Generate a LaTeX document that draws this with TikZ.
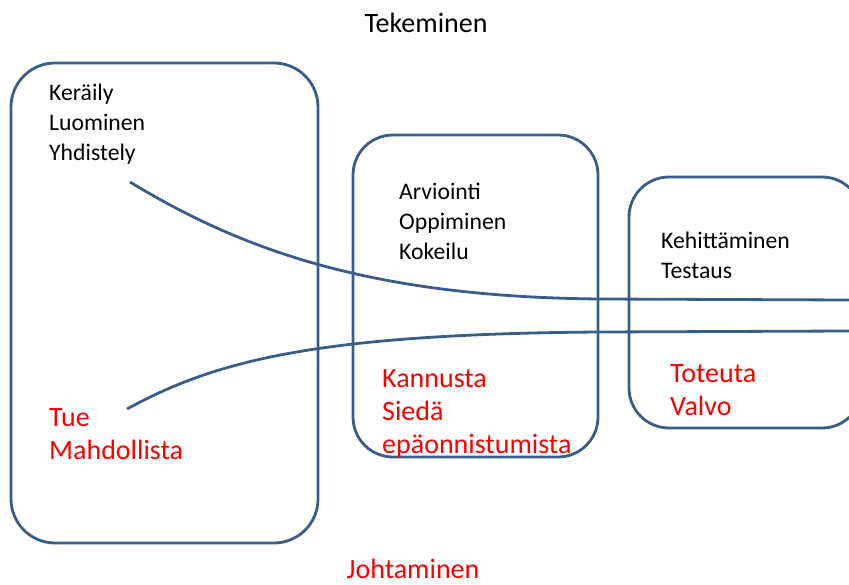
\documentclass[tikz,border=0pt]{standalone}
\usepackage{fontspec}
\setmainfont{Carlito}
\definecolor{framec}{RGB}{56,93,138}
\definecolor{redtxt}{RGB}{255,0,0}
\tikzset{
  phase/.style={draw=framec, line width=2.8pt, rounded corners=44pt},
  flow/.style={draw=framec, line width=2.8pt},
  doing/.style={anchor=base west, align=left, inner sep=0pt, font=\fontsize{23.7}{30}\selectfont, text=black},
  leading/.style={anchor=base west, align=left, inner sep=0pt, font=\fontsize{28}{33}\selectfont, text=redtxt},
  heading/.style={anchor=base, inner sep=0pt, font=\fontsize{28}{30}\selectfont}
}
\begin{document}
\begin{tikzpicture}[x=1pt,y=-1pt]
  \useasboundingbox (0,0) rectangle (849,585);
  \clip (0,0) rectangle (849,585);
  % three phase boxes
  \draw[phase] (11,63) rectangle (318,543);
  \draw[phase, rounded corners=40pt] (353,135) rectangle (598,457);
  \draw[phase, rounded corners=40pt] (629,177) rectangle (862,428);
  % titles
  \node[heading] (tek) at (426,33) {Tekeminen};
  \node[heading, text=redtxt] (joh) at (413,578) {Johtaminen};
  % activity lists (anchored at the baseline of the last line)
  \node[doing] (a1) at (49,161) {Keräily\\Luominen\\Yhdistely};
  \node[doing] (a2) at (399,260) {Arviointi\\Oppiminen\\Kokeilu};
  \node[doing] (a3) at (661,279) {Kehittäminen\\Testaus};
  % leadership actions
  \node[leading] (l1) at (49,459) {Tue\\Mahdollista};
  \node[leading] (l2) at (382,453) {Kannusta\\Siedä\\epäonnistumista};
  \node[leading] (l3) at (670,415) {Toteuta\\Valvo};
  % flow curves
  \coordinate (u0) at (130,182);
  \coordinate (u1) at (849,300);
  \coordinate (d0) at (127,409);
  \coordinate (d1) at (849,331);
  \draw[flow] (u0) .. controls (245,252) and (375,297) .. (600,299) -- (u1);
  \draw[flow] (d0) .. controls (215,361) and (315,334) .. (600,332) -- (d1);
\end{tikzpicture}
\end{document}
